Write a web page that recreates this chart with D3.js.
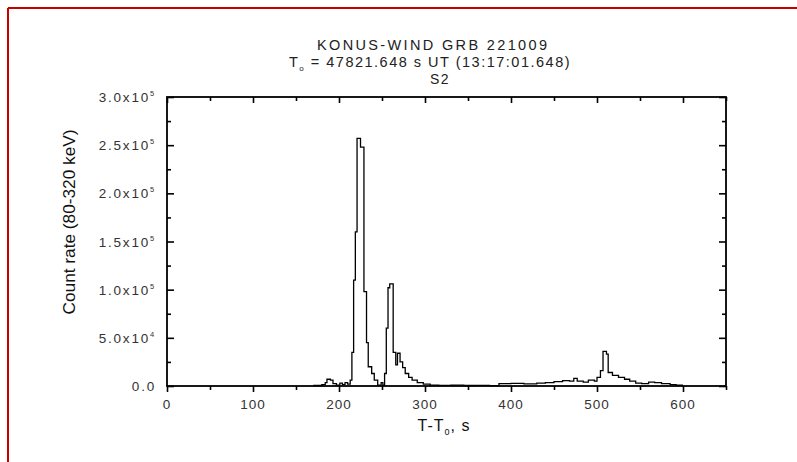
<!DOCTYPE html>
<html>
<head>
<meta charset="utf-8">
<script src="https://cdn.jsdelivr.net/npm/d3@7"></script>
<style>
  body { margin: 0; background: #fff; }
  text { font-family: "Liberation Sans", Arial, sans-serif; }
</style>
</head>
<body>
<svg width="797" height="462"></svg>
<script>
// light curve: bin start times (s) and count rates
const times = [170, 180, 184, 186, 190, 193, 197, 201, 204, 207, 210, 213, 215, 217, 219,
  221, 225, 229, 232, 234, 238, 241, 245, 249, 251, 253, 255, 257, 259, 263, 266, 268,
  271, 274, 277, 281, 285, 291, 298, 306, 316, 330, 345, 360, 375, 386, 400, 415, 430,
  440, 450, 460, 468, 473, 477, 484, 490, 497, 500, 504, 507, 511, 513, 518, 525, 532,
  538, 545, 552, 560, 567, 575, 585, 592];
const rates = [500, 1500, 3500, 7000, 6000, 2500, 1000, 3000, 1500, 3500, 2000, 6000, 35000, 110000, 160000,
  257000, 248000, 98000, 45000, 20000, 13000, 6000, 1000, 3500, 800, 13000, 60000, 102000, 106000, 35000, 22000, 34000,
  25000, 19000, 13000, 9000, 6000, 3500, 2000, 1000, 600, 900, 500, 700, 400, 2500, 2800, 2300, 3000,
  3500, 4500, 5500, 5000, 8000, 5000, 4000, 6000, 5000, 9000, 16000, 36000, 33000, 14000, 11000, 9000, 7000,
  5000, 3000, 2500, 4000, 3500, 2500, 1500, 800];
const tEnd = 600;

const xTicks = [0, 100, 200, 300, 400, 500, 600];
const yTicks = [0, 50000, 100000, 150000, 200000, 250000, 300000];
const yTickLabels = [["0.0", ""], ["5.0x10", "4"], ["1.0x10", "5"], ["1.5x10", "5"],
  ["2.0x10", "5"], ["2.5x10", "5"], ["3.0x10", "5"]];

const svg = d3.select('svg');
const pLeft = 167, pRight = 726, pTop = 97, pBottom = 386;

const x = d3.scaleLinear().domain([0, 650]).range([pLeft, pRight]);
const y = d3.scaleLinear().domain([0, 300000]).range([pBottom, pTop]);

// red frame (top and left edges only)
svg.append('line').attr('x1', 8).attr('x2', 797).attr('y1', 8).attr('y2', 8)
  .attr('stroke', '#c80000').attr('stroke-width', 2);
svg.append('line').attr('x1', 8).attr('x2', 8).attr('y1', 8).attr('y2', 462)
  .attr('stroke', '#c80000').attr('stroke-width', 2);

// data
const pts = times.map((t, i) => [t, rates[i]]);
pts.push([tEnd, rates[rates.length - 1]]);
const line = d3.line().x(d => x(d[0])).y(d => y(d[1])).curve(d3.curveStepAfter);
svg.append('path').attr('d', line(pts)).attr('fill', 'none')
  .attr('stroke', '#000').attr('stroke-width', 1.3);

// axes
const minorX = d3.range(0, 651, 50);
const minorY = d3.range(0, 300001, 25000);

const bottomAx = d3.axisBottom(x).tickValues(minorX).tickSize(6).tickFormat('');
svg.append('g').attr('transform', `translate(0,${pBottom})`).call(bottomAx)
  .call(g => g.selectAll('.tick line').attr('y2', d => d % 100 === 0 ? 6 : 4));
const topAx = d3.axisTop(x).tickValues(minorX).tickFormat('');
svg.append('g').attr('transform', `translate(0,${pTop})`).call(topAx)
  .call(g => g.selectAll('.tick line').attr('y2', d => d % 100 === 0 ? 6 : 4));
const leftAx = d3.axisLeft(y).tickValues(minorY).tickFormat('');
svg.append('g').attr('transform', `translate(${pLeft},0)`).call(leftAx)
  .call(g => g.selectAll('.tick line').attr('x2', d => d % 50000 === 0 ? 7 : 4));
const rightAx = d3.axisRight(y).tickValues(minorY).tickFormat('');
svg.append('g').attr('transform', `translate(${pRight},0)`).call(rightAx)
  .call(g => g.selectAll('.tick line').attr('x2', d => d % 50000 === 0 ? -7 : -4));

svg.selectAll('.domain').remove();
svg.selectAll('.tick line').attr('stroke', '#000').attr('stroke-width', 1.6);
svg.append('rect').attr('x', pLeft).attr('y', pTop)
  .attr('width', pRight - pLeft).attr('height', pBottom - pTop)
  .attr('fill', 'none').attr('stroke', '#000').attr('stroke-width', 1.8);

// tick labels
svg.append('g').selectAll('text').data(xTicks).enter().append('text')
  .attr('x', d => x(d)).attr('y', 409).attr('text-anchor', 'middle')
  .attr('font-size', 13.5).attr('letter-spacing', 1).attr('fill', '#333')
  .text(d => d);

const yl = svg.append('g').selectAll('text').data(yTicks).enter().append('text')
  .attr('x', 156).attr('y', d => y(d) + 5).attr('text-anchor', 'end')
  .attr('font-size', 13.5).attr('letter-spacing', 1.8).attr('fill', '#333');
yl.append('tspan').text((d, i) => yTickLabels[i][0]);
yl.append('tspan').attr('dy', -6).attr('font-size', 7.5).text((d, i) => yTickLabels[i][1]);

// axis titles
const xt = svg.append('text').attr('x', 444).attr('y', 431).attr('text-anchor', 'middle')
  .attr('font-size', 16).attr('letter-spacing', 1).attr('fill', '#111');
xt.append('tspan').text('T-T');
xt.append('tspan').attr('dy', 4).attr('font-size', 9).text('0');
xt.append('tspan').attr('dy', -4).text(', s');

svg.append('text')
  .attr('transform', 'translate(75,222) rotate(-90)')
  .attr('text-anchor', 'middle').attr('font-size', 17).attr('fill', '#111')
  .attr('textLength', 185).attr('lengthAdjust', 'spacingAndGlyphs')
  .text('Count rate (80-320 keV)');

// chart titles
svg.append('text').attr('x', 432).attr('y', 50).attr('text-anchor', 'middle')
  .attr('font-size', 14.5).attr('fill', '#222')
  .attr('textLength', 230).attr('lengthAdjust', 'spacing')
  .text('KONUS-WIND GRB 221009');

const t2 = svg.append('text').attr('x', 430).attr('y', 67).attr('text-anchor', 'middle')
  .attr('font-size', 14.5).attr('letter-spacing', 1.5).attr('fill', '#222');
t2.append('tspan').text('T');
t2.append('tspan').attr('dy', 4).attr('font-size', 8).text('o');
t2.append('tspan').attr('dy', -4).text(' = 47821.648 s UT (13:17:01.648)');

svg.append('text').attr('x', 440).attr('y', 84).attr('text-anchor', 'middle')
  .attr('font-size', 14).attr('letter-spacing', 1.5).attr('fill', '#222')
  .text('S2');
</script>
</body>
</html>
